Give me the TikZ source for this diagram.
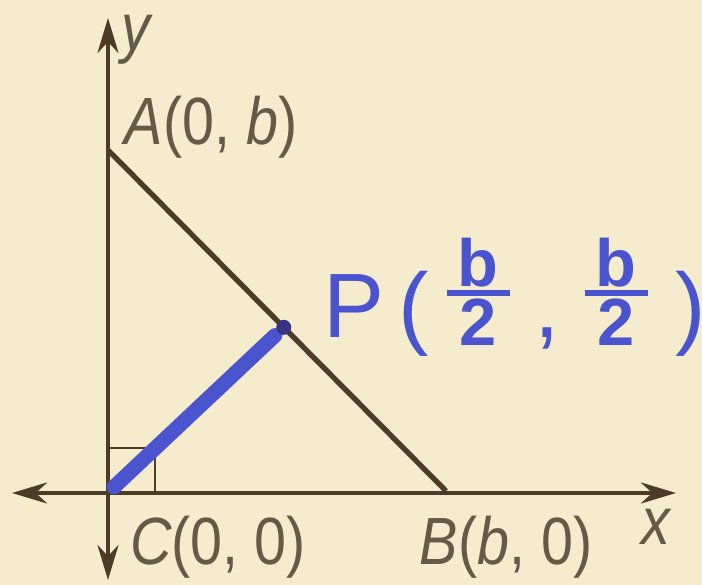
\documentclass[tikz,border=0pt]{standalone}
\usepackage{amsmath}
\usepackage{fontspec}
\setmainfont{Liberation Sans}
\newfontfamily\labfont{Liberation Sans}[FakeStretch=0.86]
\usetikzlibrary{arrows.meta,calc}
\definecolor{paper}{RGB}{244,236,204}
\definecolor{ink}{RGB}{78,58,40}
\definecolor{lbl}{RGB}{100,90,72}
\definecolor{pen}{RGB}{74,84,206}
\definecolor{pendot}{RGB}{58,50,130}
\tikzset{
  axis/.style={ink,line width=1.1pt,{Stealth[length=10pt,width=6pt]}-{Stealth[length=10pt,width=6pt]}},
  side/.style={ink,line width=1.5pt},
  lab/.style={lbl,font=\labfont\fontsize{19}{21}\selectfont,inner sep=0pt}
}
% stacked b over 2
\newcommand{\halfb}{\lower2pt\vbox{\offinterlineskip\fontsize{19}{19}\bfseries
  \halign{\hfil\,##\,\hfil\cr b\cr\noalign{\kern0.8pt\hrule height1.5pt\kern0.8pt}2\cr}}}
\begin{document}
\begin{tikzpicture}[x=0.01cm,y=-0.01cm]
\useasboundingbox[fill=paper] (0,0) rectangle (702,585);
% points
\coordinate (C) at (108,491);
\coordinate (A) at (108,150);
\coordinate (B) at (446,491);
\coordinate (P) at ($(A)!0.52!(B)$);
\coordinate (xl) at (12,493);
\coordinate (xr) at (676,493);
\coordinate (yt) at (108,18);
\coordinate (yb) at (108,580);
% axes
\draw[axis] (xl) -- (xr);
\draw[axis] (yb) -- (yt);
% triangle
\draw[side] (A) -- (B);
\draw[ink,line width=0.7pt] (108,448) -| (155,491);
% segment CP
\draw[pen,line width=4.2pt,line cap=round] ($(C)+(6,-4)$) -- ($(C)!0.95!(P)$);
\fill[pendot] (P) circle (7.5);
% labels
\node[lab] (yn) at (137,40) {\textit{y}};
\node[lab] (An) at (211,127) {\textit{A}(0, \textit{b})};
\node[lab] (Cn) at (218,547) {\textit{C}(0, 0)};
\node[lab] (Bn) at (506,547) {\textit{B}(\textit{b}, 0)};
\node[lab] (xn) at (657,527) {\textit{x}};
\node[pen,font=\fontsize{26}{28}\selectfont,inner sep=0pt,anchor=base west] (Pn) at (323,338)
  {P\hspace{4pt}(\hspace{5pt}\halfb\hspace{7pt},\hspace{7pt}\halfb\hspace{8pt})};
\end{tikzpicture}
\end{document}
